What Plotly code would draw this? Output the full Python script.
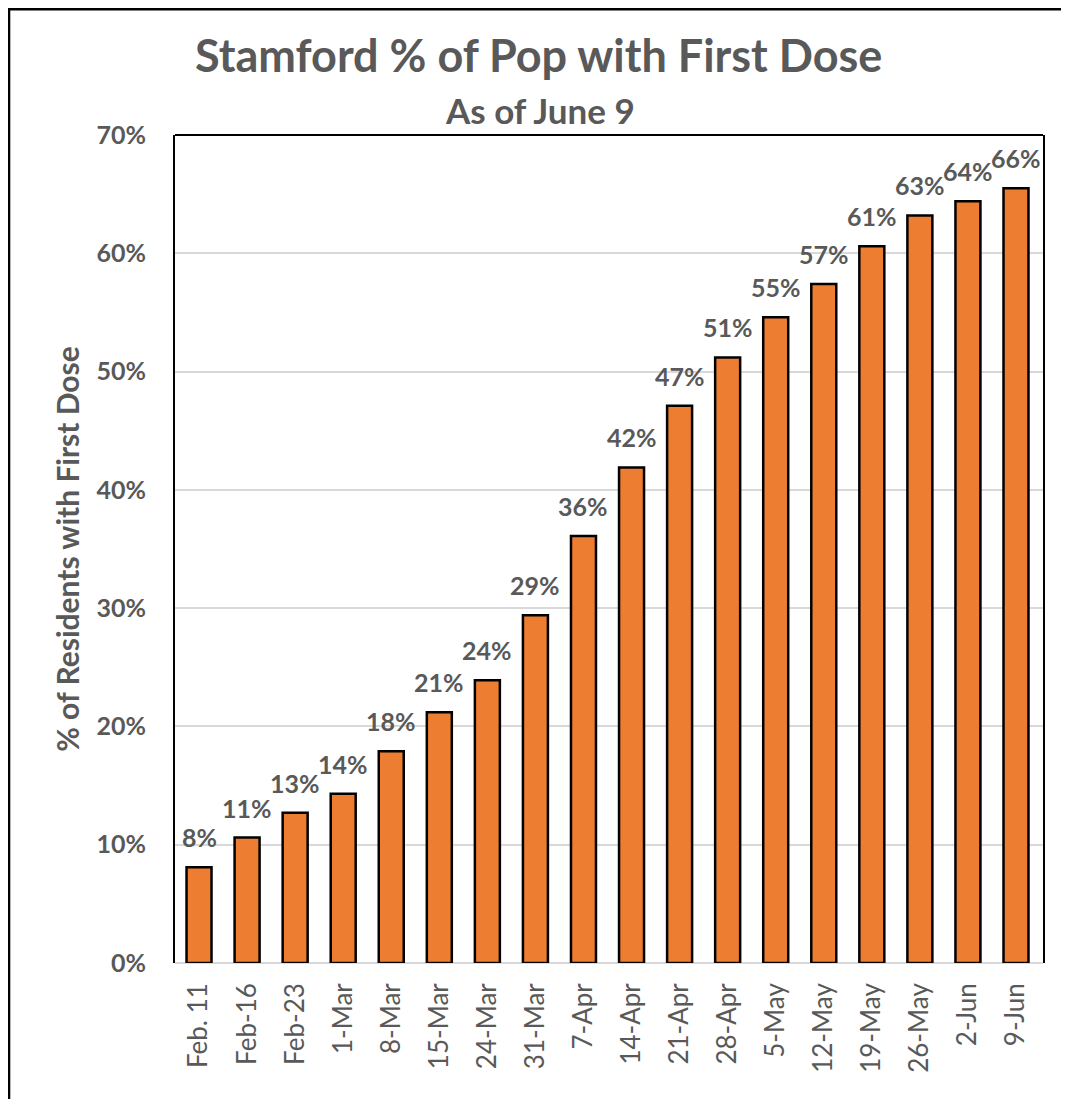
import plotly.graph_objects as go

dates = [
    "Feb. 11", "Feb-16", "Feb-23", "1-Mar", "8-Mar", "15-Mar", "24-Mar", "31-Mar",
    "7-Apr", "14-Apr", "21-Apr", "28-Apr", "5-May", "12-May", "19-May", "26-May",
    "2-Jun", "9-Jun",
]
pct_first_dose = [
    0.081, 0.106, 0.127, 0.143, 0.179, 0.212, 0.239, 0.294,
    0.361, 0.419, 0.471, 0.512, 0.546, 0.574, 0.606, 0.632,
    0.644, 0.655,
]

grey_text = "#595959"
orange = "#ED7D31"
font_family = "Lato, Carlito, 'Open Sans', sans-serif"

fig = go.Figure(
    go.Bar(
        x=dates,
        y=pct_first_dose,
        marker=dict(color=orange, line=dict(color="black", width=2.5)),
        showlegend=False,
        hovertemplate="%{x}: %{y:.1%}<extra></extra>",
    )
)

# value labels above each bar
for date, value in zip(dates, pct_first_dose):
    fig.add_annotation(
        x=date,
        y=value,
        text=f"<b>{value:.0%}</b>",
        showarrow=False,
        xanchor="center",
        yanchor="bottom",
        yshift=13,
        font=dict(size=25, color=grey_text),
    )

fig.add_annotation(
    text="<b>As of June 9</b>",
    xref="paper", yref="paper",
    x=0.4205, y=1.030,
    xanchor="center", yanchor="middle",
    showarrow=False,
    font=dict(size=35, color=grey_text),
)

fig.update_layout(
    width=1061,
    height=1091,
    paper_bgcolor="white",
    plot_bgcolor="white",
    margin=dict(l=167, r=26, t=127, b=136),
    bargap=0.48,
    font=dict(family=font_family, color=grey_text),
    title=dict(
        text="<b>Stamford % of Pop with First Dose</b>",
        xref="paper",
        x=0.419,
        xanchor="center",
        y=0.956,
        yanchor="middle",
        font=dict(size=45, color=grey_text),
    ),
    xaxis=dict(
        type="category",
        tickangle=-90,
        tickfont=dict(size=26, color=grey_text),
        showline=False,
        showgrid=False,
        ticks="",
        ticklabelstandoff=14,
    ),
    yaxis=dict(
        range=[0, 0.7],
        dtick=0.1,
        tickformat=".0%",
        tickfont=dict(size=25, color=grey_text, weight="bold"),
        gridcolor="#d9d9d9",
        gridwidth=2,
        zeroline=True,
        zerolinecolor="#d9d9d9",
        zerolinewidth=2,
        showline=True,
        mirror=True,
        linecolor="black",
        linewidth=2,
        ticks="",
        ticklabelstandoff=22,
        title=dict(
            text="<b>% of Residents with First Dose</b>",
            font=dict(size=30, color=grey_text),
            standoff=8,
        ),
    ),
    shapes=[
        dict(type="line", xref="paper", yref="paper", x0=0, x1=1, y0=1, y1=1,
             line=dict(color="black", width=2)),
        dict(type="rect", xref="paper", yref="paper", x0=-0.1912, x1=1.0265,
             y0=-0.3, y1=1.152, line=dict(color="black", width=2.5)),
    ],
)

fig.write_html("out.html")
